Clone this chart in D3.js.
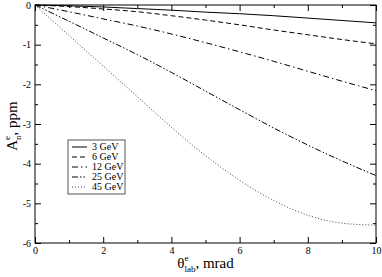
<!DOCTYPE html>
<html>
<head>
<meta charset="utf-8">
<script src="https://cdn.jsdelivr.net/npm/d3@7"></script>
<style>
    body { margin: 0; background: #fff; }
</style>
</head>
<body>
<div id="chart"></div>
<script>
const theta = [0, 1, 2, 3, 4, 5, 6, 7, 8, 9, 10]
const a3GeV = [0, -0.02, -0.05, -0.09, -0.13, -0.18, -0.22, -0.27, -0.33, -0.39, -0.45]
const a6GeV = [0, -0.04, -0.1, -0.17, -0.27, -0.38, -0.5, -0.63, -0.75, -0.87, -0.98]
const a12GeV = [0, -0.17, -0.35, -0.53, -0.73, -0.95, -1.18, -1.42, -1.67, -1.92, -2.16]
const a25GeV = [0, -0.41, -0.83, -1.25, -1.7, -2.17, -2.64, -3.1, -3.53, -3.93, -4.3]
const a45GeV = [0, -0.77, -1.54, -2.31, -3.08, -3.8, -4.42, -4.93, -5.3, -5.5, -5.55]
const seriesNames = ['3 GeV', '6 GeV', '12 GeV', '25 GeV', '45 GeV']
const xTicks = [0, 2, 4, 6, 8, 10]
const yTicks = [0, -1, -2, -3, -4, -5, -6]

const FONT = 'Liberation Serif'

function draw() {
    const dimensions = {
        width: 382,
        height: 277,
        margin: { top: 5, bottom: 34, left: 35, right: 6 }
    }
    const containerWidth = dimensions.width - dimensions.margin.left - dimensions.margin.right
    const containerHeight = dimensions.height - dimensions.margin.top - dimensions.margin.bottom

    const allSeries = [a3GeV, a6GeV, a12GeV, a25GeV, a45GeV]
    const dashes = ['none', '5,3', '6,3,1.5,3', '6,2,1.5,2,1.5,2', '1,2']
    const dataset = seriesNames.map((name, i) => ({
        name,
        dash: dashes[i],
        values: theta.map((t, j) => ({ x: t, y: allSeries[i][j] }))
    }))

    const xAccessor = d => d.x
    const yAccessor = d => d.y

    const svg = d3.select('#chart')
        .append('svg')
        .attr('width', dimensions.width)
        .attr('height', dimensions.height)
        .attr('font-family', FONT)

    const container = svg.append('g')
        .attr('transform', `translate(${dimensions.margin.left}, ${dimensions.margin.top})`)

    const xScale = d3.scaleLinear().domain([0, 10]).range([0, containerWidth])
    const yScale = d3.scaleLinear().domain([-6, 0]).range([containerHeight, 0])

    const line = d3.line()
        .x(d => xScale(xAccessor(d)))
        .y(d => yScale(yAccessor(d)))
        .curve(d3.curveMonotoneX)

    container.selectAll('path.series')
        .data(dataset)
        .join('path')
        .attr('class', 'series')
        .attr('d', d => line(d.values))
        .attr('fill', 'none')
        .attr('stroke', (d, i) => i === 4 ? '#444' : '#000')
        .attr('stroke-width', 1)
        .attr('stroke-dasharray', d => d.dash)

    // axes, ticks point inward on all four sides
    const xMinor = d3.range(1, 10, 2)
    const yMinor = d3.range(-5.5, 0, 1)
    const addAxis = (axis, transform) => {
        const g = container.append('g').attr('transform', transform).call(axis)
        g.attr('font-family', FONT)
        g.select('.domain').remove()
        g.selectAll('text').attr('font-size', 10).attr('fill', '#000')
        return g
    }
    const fmt = d => String(d)
    addAxis(d3.axisBottom(xScale).tickValues(xTicks).tickSize(-6).tickPadding(4).tickFormat(fmt), `translate(0, ${containerHeight})`)
    addAxis(d3.axisBottom(xScale).tickValues(xMinor).tickSize(-3).tickFormat(''), `translate(0, ${containerHeight})`)
    addAxis(d3.axisTop(xScale).tickValues(xTicks).tickSize(-6).tickFormat(''), 'translate(0, 0)')
    addAxis(d3.axisTop(xScale).tickValues(xMinor).tickSize(-3).tickFormat(''), 'translate(0, 0)')
    addAxis(d3.axisLeft(yScale).tickValues(yTicks).tickSize(-6).tickPadding(4).tickFormat(fmt), 'translate(0, 0)')
    addAxis(d3.axisLeft(yScale).tickValues(yMinor).tickSize(-3).tickFormat(''), 'translate(0, 0)')
    addAxis(d3.axisRight(yScale).tickValues(yTicks).tickSize(-6).tickFormat(''), `translate(${containerWidth}, 0)`)
    addAxis(d3.axisRight(yScale).tickValues(yMinor).tickSize(-3).tickFormat(''), `translate(${containerWidth}, 0)`)

    container.append('rect')
        .attr('width', containerWidth)
        .attr('height', containerHeight)
        .attr('fill', 'none')
        .attr('stroke', '#000')
        .attr('stroke-width', 1)

    // axis titles with stacked super/subscripts
    const title = (parent, base, sup, sub, rest) => {
        const t = parent.append('text').attr('font-size', 15).attr('fill', '#000')
        t.append('tspan').text(base)
        const supSpan = t.append('tspan').attr('font-size', 9).attr('dy', -7).text(sup)
        const w = supSpan.node().getComputedTextLength()
        t.append('tspan').attr('font-size', 9).attr('dx', -w).attr('dy', 11).text(sub)
        t.append('tspan').attr('dy', -4).text(rest)
        const len = t.node().getComputedTextLength()
        t.attr('x', -len / 2)
        return t
    }
    const xTitle = svg.append('g')
        .attr('transform', `translate(${dimensions.margin.left + containerWidth / 2 + 2}, 268)`)
    title(xTitle, 'θ', 'e', 'lab', ', mrad')

    const yTitle = svg.append('g')
        .attr('transform', `translate(17, ${dimensions.margin.top + containerHeight / 2}) rotate(-90)`)
    title(yTitle, 'A', 'e', 'n', ', ppm')

    // legend
    const legend = svg.append('g').attr('transform', 'translate(68, 140)')
    legend.append('rect')
        .attr('width', 57)
        .attr('height', 54)
        .attr('fill', '#fff')
        .attr('stroke', '#555')
        .attr('stroke-width', 1)
    const rows = legend.selectAll('g.row')
        .data(dataset)
        .join('g')
        .attr('class', 'row')
        .attr('transform', (d, i) => `translate(0, ${7 + i * 10})`)
    rows.append('line')
        .attr('x1', 4).attr('x2', 19)
        .attr('stroke', (d, i) => i === 4 ? '#444' : '#000')
        .attr('stroke-dasharray', d => d.dash)
    rows.append('text')
        .attr('x', 24)
        .attr('dy', '0.33em')
        .attr('font-size', 10)
        .text(d => d.name)
}

draw()
</script>
</body>
</html>
